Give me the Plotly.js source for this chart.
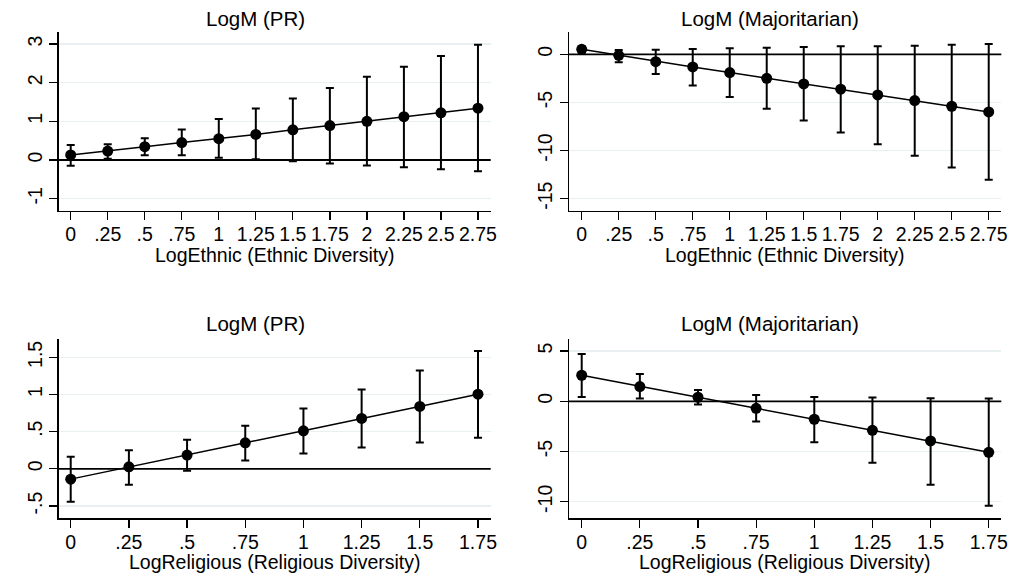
<!DOCTYPE html>
<html>
<head>
<meta charset="utf-8">
<script src="https://cdn.plot.ly/plotly-3.0.1.min.js"></script>
<style>html,body{margin:0;padding:0;background:#fff;}#chart{width:1013px;height:578px;}</style>
</head>
<body>
<div id="chart"></div>
<script>
// ---- Data ----
const ethnicX = [0, 0.25, 0.5, 0.75, 1, 1.25, 1.5, 1.75, 2, 2.25, 2.5, 2.75];
const ethnicTickText = ["0", ".25", ".5", ".75", "1", "1.25", "1.5", "1.75", "2", "2.25", "2.5", "2.75"];

const prEthY     = [0.13, 0.23, 0.345, 0.45, 0.55, 0.66, 0.78, 0.89, 1.0, 1.12, 1.22, 1.34];
const prEthHi    = [0.39, 0.41, 0.56, 0.79, 1.06, 1.33, 1.59, 1.86, 2.15, 2.41, 2.69, 2.98];
const prEthLo    = [-0.15, 0.03, 0.12, 0.12, 0.06, 0.02, -0.03, -0.09, -0.14, -0.19, -0.24, -0.29];

const majEthY    = [0.52, -0.10, -0.76, -1.31, -1.90, -2.49, -3.08, -3.63, -4.22, -4.81, -5.40, -5.99];
const majEthHi   = [0.85, 0.45, 0.48, 0.55, 0.62, 0.69, 0.76, 0.83, 0.83, 0.90, 1.00, 1.07];
const majEthLo   = [0.20, -0.83, -2.04, -3.25, -4.43, -5.67, -6.89, -8.13, -9.34, -10.55, -11.76, -13.04];

const religX = [0, 0.25, 0.5, 0.75, 1, 1.25, 1.5, 1.75];
const religTickText = ["0", ".25", ".5", ".75", "1", "1.25", "1.5", "1.75"];

const prRelY     = [-0.139, 0.027, 0.184, 0.35, 0.511, 0.677, 0.839, 1.004];
const prRelHi    = [0.161, 0.251, 0.39, 0.578, 0.812, 1.067, 1.323, 1.583];
const prRelLo    = [-0.444, -0.215, -0.027, 0.112, 0.206, 0.287, 0.354, 0.417];

const majRelY    = [2.59, 1.46, 0.40, -0.70, -1.79, -2.89, -3.95, -5.08];
const majRelHi   = [4.71, 2.72, 1.13, 0.63, 0.43, 0.37, 0.30, 0.27];
const majRelLo   = [0.43, 0.27, -0.33, -2.02, -4.08, -6.11, -8.30, -10.39];

const yTicks1 = [-1, 0, 1, 2, 3];       const yText1 = ["-1", "0", "1", "2", "3"];
const yTicks2 = [-15, -10, -5, 0];      const yText2 = ["-15", "-10", "-5", "0"];
const yTicks3 = [-0.5, 0, 0.5, 1, 1.5]; const yText3 = ["-.5", "0", ".5", "1", "1.5"];
const yTicks4 = [-10, -5, 0, 5];        const yText4 = ["-10", "-5", "0", "5"];

const titles = ["LogM (PR)", "LogM (Majoritarian)", "LogM (PR)", "LogM (Majoritarian)"];
const xTitles = ["LogEthnic (Ethnic Diversity)", "LogEthnic (Ethnic Diversity)",
                 "LogReligious (Religious Diversity)", "LogReligious (Religious Diversity)"];

// ---- Build ----
const FONT = "Liberation Sans, Arial, sans-serif";
function trace(x, y, hi, lo, xa, ya) {
  return {
    x: x, y: y, xaxis: xa, yaxis: ya, type: "scatter", mode: "lines+markers",
    line: {color: "#000", width: 1.5},
    marker: {color: "#000", size: 11},
    error_y: {type: "data", symmetric: false,
      array: hi.map((h, i) => h - y[i]),
      arrayminus: lo.map((l, i) => y[i] - l),
      color: "#000", thickness: 2, width: 4},
    showlegend: false, hoverinfo: "x+y"
  };
}
const data = [
  trace(ethnicX, prEthY, prEthHi, prEthLo, "x", "y"),
  trace(ethnicX, majEthY, majEthHi, majEthLo, "x2", "y2"),
  trace(religX, prRelY, prRelHi, prRelLo, "x3", "y3"),
  trace(religX, majRelY, majRelHi, majRelLo, "x4", "y4")
];

const W = 1013, H = 578;
const colDom = [[58.7 / W, 490.7 / W], [569 / W, 1001.3 / W]];
const rowDom = [[1 - 210.7 / H, 1 - 32.3 / H], [1 - 518.3 / H, 1 - 339.3 / H]];
const TF = 19.5;

function xax(dom, range, vals, text) {
  return {domain: dom, range: range, tickmode: "array", tickvals: vals, ticktext: text,
    showline: true, linecolor: "#000", linewidth: 1.3, ticks: "outside", ticklen: 8, tickwidth: 1.3,
    tickcolor: "#000", showgrid: false, zeroline: false, tickfont: {family: FONT, size: TF, color: "#000"},
    ticklabelstandoff: -2, automargin: false, fixedrange: true};
}
function yax(dom, range, vals, text) {
  return {domain: dom, range: range, tickmode: "array", tickvals: vals, ticktext: text, tickangle: -90,
    showline: true, linecolor: "#000", linewidth: 1.3, ticks: "outside", ticklen: 8, tickwidth: 1.3,
    tickcolor: "#000", showgrid: true, gridcolor: "#e8f0f2", gridwidth: 1.3,
    zeroline: false,
    tickfont: {family: FONT, size: TF, color: "#000"}, automargin: false, fixedrange: true};
}

const titleX = [255 / W, 769.5 / W, 255 / W, 769.5 / W];
const titleY = [1 - 18 / H, 1 - 18 / H, 1 - 323 / H, 1 - 323 / H];
const xTitleX = [274.7 / W, 785 / W, 274.7 / W, 785 / W];
const xTitleY = [1 - 255 / H, 1 - 255 / H, 1 - 562 / H, 1 - 562 / H];

const zeroShapes = ["", "2", "3", "4"].map(s => ({
  type: "line", xref: "x" + s + " domain", yref: "y" + s, x0: 0, x1: 1, y0: 0, y1: 0,
  line: {color: "#000", width: 1.8}, layer: "above"
}));

const annTitles = titles.map((t, i) => ({
  text: t, xref: "paper", yref: "paper", x: titleX[i], y: titleY[i],
  xanchor: "center", yanchor: "middle", showarrow: false,
  font: {family: FONT, size: 20.5, color: "#000"}
}));
const annXTitles = xTitles.map((t, i) => ({
  text: t, xref: "paper", yref: "paper", x: xTitleX[i], y: xTitleY[i],
  xanchor: "center", yanchor: "middle", showarrow: false,
  font: {family: FONT, size: TF, color: "#000"}
}));

const layout = {
  width: W, height: H, autosize: false,
  margin: {l: 0, r: 0, t: 0, b: 0, pad: 0},
  paper_bgcolor: "#fff", plot_bgcolor: "#fff",
  font: {family: FONT, color: "#000"},
  xaxis:  xax(colDom[0], [-0.081, 2.836], ethnicX, ethnicTickText),
  xaxis2: xax(colDom[1], [-0.086, 2.835], ethnicX, ethnicTickText),
  xaxis3: xax(colDom[0], [-0.0516, 1.8046], religX, religTickText),
  xaxis4: xax(colDom[1], [-0.0546, 1.804], religX, religTickText),
  yaxis:  Object.assign(yax(rowDom[0], [-1.31, 3.30], yTicks1, yText1), {anchor: "x"}),
  yaxis2: Object.assign(yax(rowDom[0], [-16.26, 2.29], yTicks2, yText2), {anchor: "x2"}),
  yaxis3: Object.assign(yax(rowDom[1], [-0.666, 1.742], yTicks3, yText3), {anchor: "x3"}),
  yaxis4: Object.assign(yax(rowDom[1], [-11.65, 6.17], yTicks4, yText4), {anchor: "x4"}),
  shapes: zeroShapes,
  annotations: annTitles.concat(annXTitles)
};
layout.xaxis.anchor = "y"; layout.xaxis2.anchor = "y2";
layout.xaxis3.anchor = "y3"; layout.xaxis4.anchor = "y4";

Plotly.newPlot("chart", data, layout, {displayModeBar: false, staticPlot: true});
</script>
</body>
</html>
